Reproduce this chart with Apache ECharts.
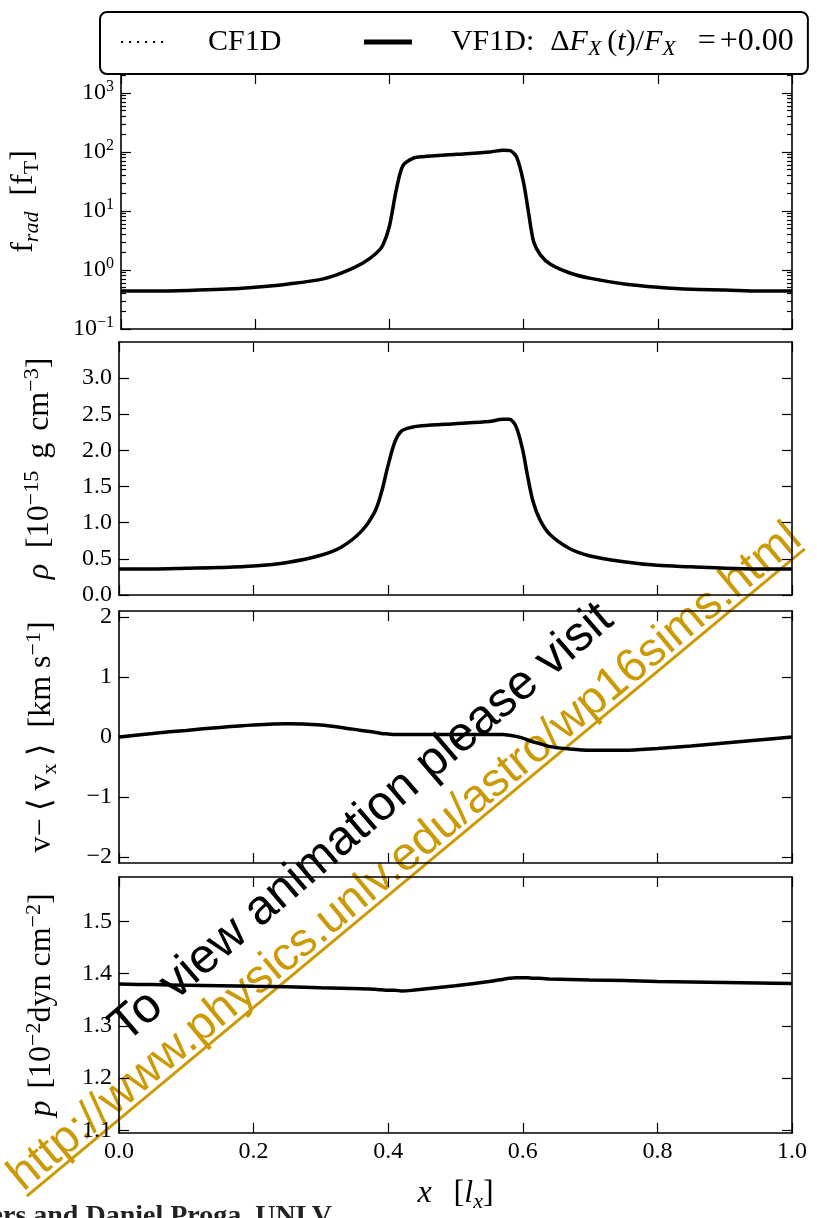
<!DOCTYPE html>
<html><head><meta charset="utf-8">
<script src="https://cdn.jsdelivr.net/npm/echarts@6/dist/echarts.min.js"></script>
<style>html,body{margin:0;padding:0;background:#fff}#c{width:817px;height:1218px}</style>
</head><body><div id="c"></div>
<script>
// ---- data ----
const xPos = [0,0.05,0.1,0.15,0.2,0.25,0.3,0.33,0.36,0.38,0.39,0.4,0.41,0.42,0.435,0.45,0.5,0.55,0.57,0.58,0.59,0.6,0.607,0.615,0.625,0.64,0.67,0.7,0.75,0.8,0.85,0.9,0.95,1.0];
const fRad = [0.44,0.44,0.45,0.47,0.51,0.58,0.70,0.90,1.3,1.9,2.6,5.5,22,58,78,83,91,100,107,105,80,30,10,3.0,1.8,1.25,0.88,0.72,0.58,0.51,0.47,0.46,0.44,0.44];
const rho = [0.36,0.36,0.37,0.38,0.40,0.45,0.55,0.66,0.88,1.15,1.42,1.8,2.12,2.27,2.32,2.34,2.37,2.40,2.43,2.43,2.33,2.0,1.65,1.3,1.05,0.84,0.64,0.54,0.46,0.41,0.39,0.37,0.36,0.36];
const vRel = [0.0,0.06,0.11,0.16,0.2,0.22,0.2,0.16,0.11,0.08,0.06,0.05,0.04,0.04,0.04,0.04,0.04,0.04,0.04,0.03,0.01,-0.02,-0.05,-0.08,-0.11,-0.16,-0.2,-0.22,-0.22,-0.19,-0.15,-0.1,-0.05,0.0];
const pres = [1.380,1.379,1.378,1.377,1.376,1.375,1.373,1.372,1.371,1.370,1.369,1.368,1.368,1.367,1.368,1.370,1.377,1.385,1.389,1.391,1.392,1.392,1.392,1.391,1.391,1.390,1.389,1.388,1.387,1.385,1.384,1.383,1.382,1.381];

const xTicks = [0,0.2,0.4,0.6,0.8,1.0];
const fRadExp = [-1,0,1,2,3];
const rhoTicks = [0,0.5,1.0,1.5,2.0,2.5,3.0];
const vTicks = [-2,-1,0,1,2];
const pTicks = [1.1,1.2,1.3,1.4,1.5];

const SERIF = '"Liberation Serif","Times New Roman",serif';
const SANS = '"Liberation Sans",Arial,sans-serif';

// minor ticks for the log panel (log10 of k*10^n)
const logMinor = [];
for (let n = -1; n <= 3; n++) for (let k = 2; k <= 9; k++) { const v = Math.log10(k * Math.pow(10, n)); if (v < 3.32) logMinor.push(v); }

const nameRich = {
  n:{fontFamily:SERIF,fontSize:32,color:'#000',lineHeight:38},
  i:{fontFamily:SERIF,fontSize:32,fontStyle:'italic',color:'#000',lineHeight:38},
  sup:{fontFamily:SERIF,fontSize:22,color:'#000',verticalAlign:'top',lineHeight:22},
  sub:{fontFamily:SERIF,fontSize:22,fontStyle:'italic',color:'#000',verticalAlign:'bottom',lineHeight:22},
  subr:{fontFamily:SERIF,fontSize:22,color:'#000',verticalAlign:'bottom',lineHeight:22},
  g8:{width:8}, g12:{width:12}, g16:{width:16}
};

const panels = [
  {top:74, height:255, min:-1, max:3.32, ticks:fRadExp, data:fRad.map(v=>Math.log10(v)),
   fmt:v=>'{b|10}{e|'+(v<0?'\u2212'+(-v):v)+'}',
   name:'{n|f}{sub|rad}{g16| }{n|[f}{subr|T}{n|]}', gap:78},
  {top:342, height:253, min:0, max:3.5, ticks:rhoTicks, data:rho, fmt:v=>v.toFixed(1),
   name:'{i|\u03c1}{g16| }{n|[10}{sup|\u221215}{g12| }{n|g}{g12| }{n|cm}{sup|\u22123}{n|]}', gap:60},
  {top:611, height:252, min:-2.1, max:2.1, ticks:vTicks, data:vRel, fmt:v=>(v<0?'\u2212'+(-v):''+v),
   name:'{n|v\u2212}{g8| }{n|\u27e8}{g8| }{n|v}{subr|x}{g8| }{n|\u27e9}{g16| }{n|[km s}{sup|\u22121}{n|]}', gap:58},
  {top:877, height:256, min:1.095, max:1.585, ticks:pTicks, data:pres, fmt:v=>v.toFixed(1),
   name:'{i|p}{g12| }{n|[10}{sup|\u22122}{n|dyn}{g8| }{n|cm}{sup|\u22122}{n|]}', gap:58}
];

const tick = (len, vals) => { const t = {show:true, inside:true, length:len, lineStyle:{color:'#000', width:1.2}}; if (vals) t.customValues = vals; return t; };
const axLine = {show:true, onZero:false, lineStyle:{color:'#000', width:1.6}};

const grids = [], xAxes = [], yAxes = [], series = [];
panels.forEach((p, i) => {
  grids.push({left:119, right:25, top:p.top, height:p.height, containLabel:false});
  const xb = {type:'value', gridIndex:i, min:0, max:1, position:'bottom',
    axisLine:axLine, axisTick:tick(10, xTicks), splitLine:{show:false},
    axisLabel:{show:i===3, customValues:xTicks, margin:7, fontFamily:SERIF, fontSize:24, color:'#000', formatter:v=>v.toFixed(1)}};
  if (i === 3) {
    xb.name = '{i|x}{g| }{n|[}{i|l}{sub|x}{n|]}';
    xb.nameLocation = 'middle'; xb.nameGap = 42;
    xb.nameTextStyle = {rich:{
      n:{fontFamily:SERIF,fontSize:32,color:'#000',lineHeight:38},
      i:{fontFamily:SERIF,fontSize:32,fontStyle:'italic',color:'#000',lineHeight:38},
      sub:{fontFamily:SERIF,fontSize:22,fontStyle:'italic',color:'#000',verticalAlign:'bottom',lineHeight:22},
      g:{width:22}}};
  }
  xAxes.push(xb);
  xAxes.push({type:'value', gridIndex:i, min:0, max:1, position:'top',
    axisLine:axLine, axisTick:tick(10, xTicks), axisLabel:{show:false}, splitLine:{show:false}});

  const yl = yAxes.length;
  yAxes.push({type:'value', gridIndex:i, min:p.min, max:p.max, position:'left',
    axisLine:axLine, axisTick:tick(10, p.ticks), splitLine:{show:false},
    axisLabel:{customValues:p.ticks, margin:7, fontFamily:SERIF, fontSize:24, color:'#000', formatter:p.fmt,
      rich:{b:{fontFamily:SERIF,fontSize:24,color:'#000',lineHeight:28},
            e:{fontFamily:SERIF,fontSize:16,color:'#000',verticalAlign:'top',lineHeight:16}}},
    name:p.name, nameLocation:'middle', nameGap:p.gap, nameRotate:90, nameTextStyle:{rich:nameRich}});
  yAxes.push({type:'value', gridIndex:i, min:p.min, max:p.max, position:'right',
    axisLine:axLine, axisTick:tick(10, p.ticks), axisLabel:{show:false}, splitLine:{show:false}});
  if (i === 0) {
    yAxes.push({type:'value', gridIndex:i, min:p.min, max:p.max, position:'left',
      axisLine:{show:false, onZero:false}, axisTick:tick(5, logMinor), axisLabel:{show:false}, splitLine:{show:false}});
    yAxes.push({type:'value', gridIndex:i, min:p.min, max:p.max, position:'right',
      axisLine:{show:false, onZero:false}, axisTick:tick(5, logMinor), axisLabel:{show:false}, splitLine:{show:false}});
  }
  const pts = xPos.map((x, k) => [x, p.data[k]]);
  series.push({name:'CF1D', type:'line', xAxisIndex:2*i, yAxisIndex:yl, data:pts, symbol:'none', smooth:0.3,
    lineStyle:{type:[2,6], width:2, color:'#000'}, itemStyle:{color:'#000'}, z:2, silent:true});
  series.push({name:'VF1D', type:'line', xAxisIndex:2*i, yAxisIndex:yl, data:pts, symbol:'none', smooth:0.3,
    lineStyle:{type:'solid', width:3.5, color:'#000'}, itemStyle:{color:'#000'}, z:3, silent:true});
});

const legendRich = {
  t:{fontFamily:SERIF,fontSize:30,color:'#000',lineHeight:36},
  t2:{fontFamily:SERIF,fontSize:32,color:'#000',lineHeight:36},
  it:{fontFamily:SERIF,fontSize:30,fontStyle:'italic',color:'#000',lineHeight:36},
  sb:{fontFamily:SERIF,fontSize:22,fontStyle:'italic',color:'#000',verticalAlign:'bottom',lineHeight:22,padding:[0,6,0,0]},
  g1:{width:34}, g2:{width:16}, g3:{width:16}, g4:{width:4}
};

const chart = echarts.init(document.getElementById('c'), null, {renderer:'canvas'});
chart.setOption({
  backgroundColor:'#fff',
  animation:false,
  grid:grids, xAxis:xAxes, yAxis:yAxes, series:series,
  legend:{left:100, top:12, itemWidth:48, itemHeight:20, itemGap:80,
    data:[{name:'CF1D', lineStyle:{width:2.2, type:[2,6]}}, {name:'VF1D', lineStyle:{width:5}}],
    padding:[14,14,14,20], borderColor:'#000', borderWidth:2, borderRadius:7, backgroundColor:'#fff',
    selectedMode:false, z:20, itemStyle:{opacity:0},
    formatter:n => n === 'CF1D' ? '{g1| }{t|CF1D}' :
      '{g1| }{t|VF1D:}{g2| }{t|\u0394}{it|F}{sb|X}{t|(}{it|t}{t|)/}{it|F}{sb|X}{g3| }{t2|=}{g4| }{t2|+0.00}',
    textStyle:{rich:legendRich}},
  graphic:[
    {type:'text', x:133, y:1052, rotation:0.71, z:100,
     style:{text:'To view animation please visit', fontFamily:SANS, fontSize:49, fill:'#000', align:'left', verticalAlign:'bottom'}},
    {type:'group', x:30, y:1200, rotation:0.694, z:100, children:[
      {type:'text', x:0, y:0, style:{text:'http://www.physics.unlv.edu/astro/wp16sims.html', fontFamily:SANS, fontSize:47, fill:'#CC9A06', align:'left', verticalAlign:'bottom'}},
      {type:'line', shape:{x1:0, y1:-5, x2:1012, y2:-5}, style:{stroke:'#CC9A06', lineWidth:3}}
    ]},
    {type:'text', x:332, y:1203, z:100,
     style:{text:'Tim Waters and Daniel Proga, UNLV', fontFamily:SERIF, fontWeight:'bold', fontSize:28, fill:'#222', align:'right', verticalAlign:'top'}}
  ]
});
</script></body></html>
